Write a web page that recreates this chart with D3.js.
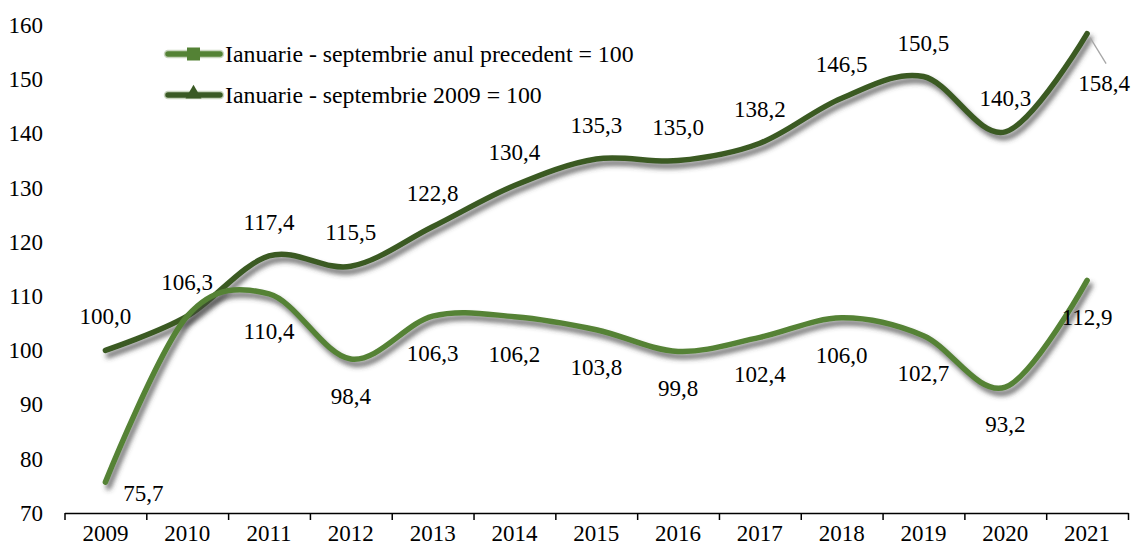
<!DOCTYPE html>
<html>
<head>
<meta charset="utf-8">
<script src="https://cdn.jsdelivr.net/npm/d3@7"></script>
</head>
<body style="margin:0">
<svg id="viz" width="1136" height="551"></svg>
<script>
const years = ["2009","2010","2011","2012","2013","2014","2015","2016","2017","2018","2019","2020","2021"];
const seriesPrevYear = [75.7, 106.3, 110.4, 98.4, 106.3, 106.2, 103.8, 99.8, 102.4, 106.0, 102.7, 93.2, 112.9];
const series2009 = [100.0, 106.3, 117.4, 115.5, 122.8, 130.4, 135.3, 135.0, 138.2, 146.5, 150.5, 140.3, 158.4];
const seriesNames = ["Ianuarie - septembrie anul precedent = 100", "Ianuarie - septembrie 2009 = 100"];
const yTicks = [70, 80, 90, 100, 110, 120, 130, 140, 150, 160];

const colPrev = "#548235";
const col2009 = "#3a5a24";
const fontSize = 23;

const svg = d3.select("#viz");
const defs = svg.append("defs");
const f = defs.append("filter").attr("id", "shadow")
  .attr("x", "-10%").attr("y", "-20%").attr("width", "120%").attr("height", "150%");
f.append("feGaussianBlur").attr("in", "SourceAlpha").attr("stdDeviation", 2.6).attr("result", "b");
f.append("feOffset").attr("in", "b").attr("dx", 3).attr("dy", 5).attr("result", "o");
f.append("feFlood").attr("flood-color", "#404040").attr("flood-opacity", 0.75).attr("result", "c");
f.append("feComposite").attr("in", "c").attr("in2", "o").attr("operator", "in").attr("result", "s");
const m = f.append("feMerge");
m.append("feMergeNode").attr("in", "s");
m.append("feMergeNode").attr("in", "SourceGraphic");

const x = d3.scaleBand().domain(years).range([64.5, 1128]).padding(0);
const xc = d => x(d) + x.bandwidth() / 2;
const xb = d3.scaleLinear().domain([0, years.length]).range([64.5, 1128]);
const y = d3.scaleLinear().domain([70, 160]).range([513, 25]);

function styleText(sel) {
  sel.style("font-family", '"Liberation Serif"').attr("font-size", fontSize).attr("fill", "#000");
}

svg.append("g").attr("transform", "translate(0,513)")
  .call(d3.axisBottom(xb).tickValues(d3.range(0, years.length + 1)).tickFormat("").tickSizeInner(7).tickSizeOuter(0))
  .call(g => g.selectAll("path,line").attr("stroke", "#000").attr("stroke-width", 1.5));

svg.append("g").attr("transform", "translate(0,513)")
  .call(d3.axisBottom(x).tickSize(0).tickPadding(12))
  .call(g => g.attr("font-family", null).attr("font-size", null))
  .call(g => g.select(".domain").remove())
  .call(g => g.selectAll("text").attr("dy", "0.71em").call(styleText));

svg.append("g").attr("transform", "translate(43,0)")
  .call(d3.axisLeft(y).tickValues(yTicks).tickSize(0).tickPadding(0))
  .call(g => g.attr("font-family", null).attr("font-size", null))
  .call(g => g.select(".domain").remove())
  .call(g => g.selectAll("text").call(styleText));

const line = d3.line().x((d, i) => xc(years[i])).y(d => y(d)).curve(d3.curveCardinal.tension(0));

svg.append("path").datum(series2009).attr("d", line)
  .attr("fill", "none").attr("stroke", col2009).attr("stroke-width", 5.5)
  .attr("stroke-linecap", "round").attr("stroke-linejoin", "round").attr("filter", "url(#shadow)");
svg.append("path").datum(seriesPrevYear).attr("d", line)
  .attr("fill", "none").attr("stroke", colPrev).attr("stroke-width", 5.5)
  .attr("stroke-linecap", "round").attr("stroke-linejoin", "round").attr("filter", "url(#shadow)");

const fmt = v => v.toFixed(1).replace(".", ",");

const last = years.length - 1;
series2009.forEach((v, i) => {
  const px = xc(years[i]), py = y(v);
  if (i === last) {
    svg.append("line").attr("x1", px + 3).attr("y1", py + 4).attr("x2", px + 19).attr("y2", py + 30)
      .attr("stroke", "#a6a6a6").attr("stroke-width", 1.3);
    svg.append("text").attr("x", px + 17).attr("y", py + 49).attr("dy", "0.35em")
      .attr("text-anchor", "middle").text(fmt(v)).call(styleText);
  } else {
    svg.append("text").attr("x", px).attr("y", py - 34).attr("dy", "0.35em")
      .attr("text-anchor", "middle").text(fmt(v)).call(styleText);
  }
});
seriesPrevYear.forEach((v, i) => {
  if (i === 1) return;
  let dx = 0, dy = 37;
  if (i === 0) { dx = 38; dy = 11; }
  svg.append("text").attr("x", xc(years[i]) + dx).attr("y", y(v) + dy).attr("dy", "0.35em")
    .attr("text-anchor", "middle").text(fmt(v)).call(styleText);
});

const legend = svg.append("g");
const legendRows = [
  { name: seriesNames[0], color: colPrev, marker: "square", yy: 54 },
  { name: seriesNames[1], color: col2009, marker: "triangle", yy: 95 }
];
legendRows.forEach(r => {
  legend.append("line").attr("x1", 168).attr("x2", 220).attr("y1", r.yy).attr("y2", r.yy)
    .attr("stroke", "#c9d5bf").attr("stroke-width", 8.5).attr("stroke-linecap", "round");
  legend.append("line").attr("x1", 168).attr("x2", 220).attr("y1", r.yy).attr("y2", r.yy)
    .attr("stroke", r.color).attr("stroke-width", 5.5).attr("stroke-linecap", "round");
  if (r.marker === "square") {
    legend.append("rect").attr("x", 187).attr("y", r.yy - 6.5).attr("width", 13).attr("height", 13).attr("fill", r.color);
  } else {
    legend.append("path").attr("d", d3.symbol(d3.symbolTriangle, 110)())
      .attr("transform", `translate(193.5,${r.yy - 1})`).attr("fill", r.color);
  }
  legend.append("text").attr("x", 225).attr("y", r.yy).attr("dy", "0.35em")
    .text(r.name).call(styleText).attr("font-size", 23.8);
});
</script>
</body>
</html>
